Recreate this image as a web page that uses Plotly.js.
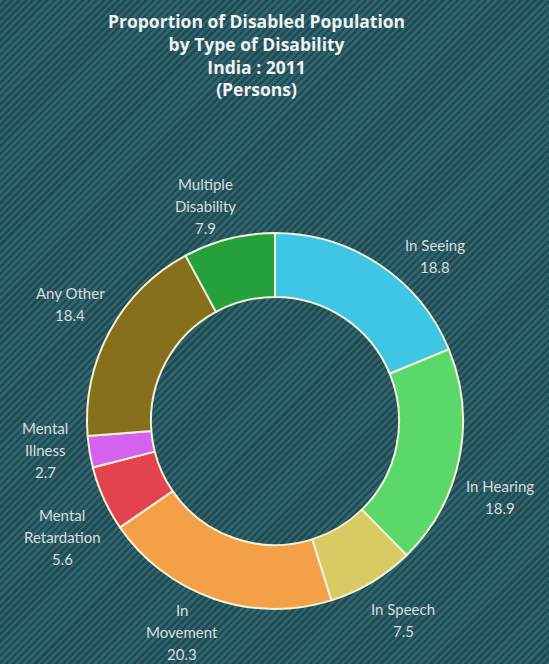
<!DOCTYPE html>
<html>
<head>
<meta charset="utf-8">
<script src="https://cdn.plot.ly/plotly-3.0.1.min.js"></script>
<style>
  html, body { margin: 0; padding: 0; }
  body {
    width: 549px; height: 664px; overflow: hidden;
    background-color: #2a5a62;
    background-image: repeating-linear-gradient(135deg, #2f656e 0px, #2f656e 2.5px, #224a53 2.5px, #224a53 5px);
  }
  #chart { width: 549px; height: 664px; }
</style>
</head>
<body>
<div id="chart"></div>
<script>
// ---- data ----
const titleLines = ["Proportion of Disabled Population", "by Type of Disability", "India : 2011", "(Persons)"];
const categories = ["In Seeing", "In Hearing", "In Speech", "In Movement", "Mental Retardation", "Mental Illness", "Any Other", "Multiple Disability"];
const values = [18.8, 18.9, 7.5, 20.3, 5.6, 2.7, 18.4, 7.9];
const labelLines = [["In Seeing"], ["In Hearing"], ["In Speech"], ["In", "Movement"], ["Mental", "Retardation"], ["Mental", "Illness"], ["Any Other"], ["Multiple", "Disability"]];

// ---- styles / layout ----
const colors = ["#3fc6e4", "#5ad86a", "#d8cb64", "#f4a049", "#e2434f", "#d462ef", "#86701b", "#25a03a"];
const W = 549, H = 664;
const labelPosPx = [[435, 256], [500, 497], [403, 620], [182, 632], [62, 537], [45, 450], [70, 304], [205, 206]];
const lineGap = 22;
const labelFont = {family: "Lato, 'Open Sans', sans-serif", size: 15, color: "#d6dfdf"};
const titleFont = {family: "'Open Sans', Lato, sans-serif", size: 17.5, color: "#eef2f2"};
const titleCenterPx = [256, 55];

const annotations = [{
  xref: "paper", yref: "paper", x: titleCenterPx[0] / W, y: 1 - titleCenterPx[1] / H,
  xanchor: "center", yanchor: "middle", align: "center",
  text: "<b>" + titleLines.join("<br>") + "</b>",
  showarrow: false, font: titleFont
}];
categories.forEach((c, i) => {
  const lines = labelLines[i].concat([values[i].toFixed(1)]);
  const n = lines.length;
  lines.forEach((t, j) => {
    annotations.push({
      xref: "paper", yref: "paper",
      x: labelPosPx[i][0] / W, y: 1 - labelPosPx[i][1] / H,
      xanchor: "center", yanchor: "middle",
      yshift: -((j - (n - 1) / 2) * lineGap),
      text: t, showarrow: false, font: labelFont
    });
  });
});

const trace = {
  type: "pie",
  labels: categories,
  values: values,
  hole: 0.66,
  sort: false,
  direction: "clockwise",
  rotation: 0,
  textinfo: "none",
  hoverinfo: "label+value",
  marker: {colors: colors, line: {color: "#f3f1d6", width: 2}},
  domain: {x: [87 / W, 463 / W], y: [(H - 609) / H, (H - 233) / H]},
  showlegend: false
};

const layout = {
  width: W, height: H,
  margin: {l: 0, r: 0, t: 0, b: 0},
  paper_bgcolor: "rgba(0,0,0,0)",
  plot_bgcolor: "rgba(0,0,0,0)",
  annotations: annotations
};

Plotly.newPlot("chart", [trace], layout, {displayModeBar: false, staticPlot: true});
</script>
</body>
</html>
